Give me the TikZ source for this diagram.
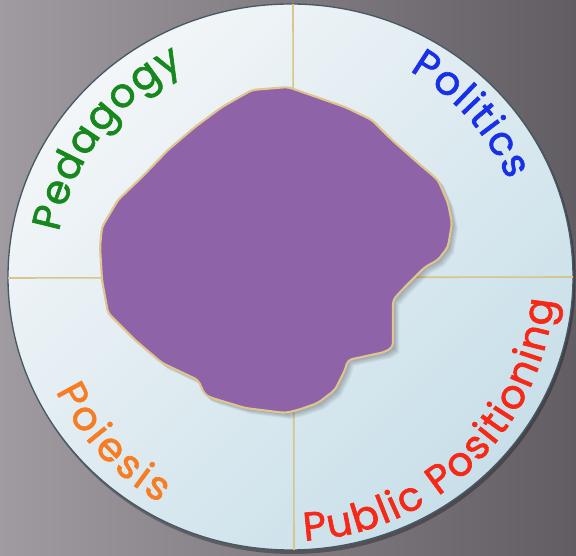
\documentclass[tikz,border=0pt]{standalone}
\usepackage{fontspec}
\usetikzlibrary{decorations.text}
\newfontfamily\handfont{Poppins}[FakeBold=1.6]

\definecolor{bgdark}{RGB}{98,92,99}
\definecolor{bglight}{RGB}{160,154,161}
\definecolor{diskhi}{RGB}{243,246,248}
\definecolor{disklo}{RGB}{200,223,233}
\definecolor{diskrim}{RGB}{70,90,102}
\definecolor{splitline}{RGB}{217,196,138}
\definecolor{blobfill}{RGB}{143,99,168}
\definecolor{blobedge}{RGB}{222,198,142}
\definecolor{pedgreen}{RGB}{22,136,30}
\definecolor{polblue}{RGB}{24,48,232}
\definecolor{poiorange}{RGB}{247,124,34}
\definecolor{pubred}{RGB}{246,40,24}

\newcommand{\labelfont}{\handfont\fontsize{30}{30}\selectfont}
\newcommand{\blobshape}{(288,87) -- (305,93) -- (345,107) -- (372,120) -- (392,140) -- (418,163) -- (438,180) -- (448,203) -- (452,223) -- (448,247) -- (438,260) -- (425,267) -- (412,280) -- (402,290) -- (393,300) -- (393,347) -- (385,352) -- (348,360) -- (345,370) -- (335,390) -- (318,403) -- (298,410) -- (285,413) -- (245,408) -- (212,398) -- (205,395) -- (198,380) -- (162,363) -- (135,340) -- (108,313) -- (102,280) -- (100,247) -- (102,227) -- (118,200) -- (142,177) -- (168,150) -- (195,127) -- (222,107) -- (252,90) -- cycle}

\tikzset{every picture/.style={line width=0.75pt}}
\tikzset{
  quarterline/.style={draw=splitline, line width=1.2pt},
  arclabel/.style 2 args={postaction={decorate}, decoration={text along path, text align=fit to path, text color=#1, text={|\labelfont|#2}}},
}

\begin{document}
\begin{tikzpicture}[x=0.75pt,y=0.75pt,yscale=-1]
\useasboundingbox (0,0) rectangle (576,556);

%Shape: Rectangle [id:background]
\shade[left color=bglight, right color=bgdark] (0,0) rectangle (576,556);

%Shape: Ellipse [id:disk]
\begin{scope}[shift={(290.5,277)}, yscale=-1]
\fill[black, opacity=0.3] (2,-3) ellipse [x radius=283, y radius=274];
\shade[top color=diskhi, bottom color=disklo, shading angle=45] (0,0) ellipse [x radius=282.5, y radius=273];
\draw[diskrim, line width=1pt] (0,0) ellipse [x radius=282.5, y radius=273];
\end{scope}

%Straight Lines [id:quarters]
\coordinate (vtop) at (293,4);
\coordinate (vbot) at (294,550);
\coordinate (hleft) at (8,278);
\coordinate (hright) at (573,277);
\draw[quarterline] (vtop) -- (vbot);
\draw[quarterline] (hleft) -- (hright);

%Shape: Polygon [id:blob]
\foreach \d in {1,...,6}
  \fill[black, opacity=0.05, shift={(\d,\d)}] \blobshape;
\filldraw[fill=blobfill, draw=blobedge, line width=1.6pt, rounded corners=3pt] \blobshape;

% Text along arcs
\begin{scope}[shift={(290.5,277)}, yscale=-1]
\path[arclabel={pedgreen}{Pedagogy}] (169:236) arc[start angle=169, end angle=117, radius=236];
\path[arclabel={polblue}{Politics}] (60:238) arc[start angle=60, end angle=24, radius=238];
\path[arclabel={poiorange}{Poiesis}] (206:261) arc[start angle=206, end angle=240, radius=261];
\path[arclabel={pubred}{Public Positioning}] (273:264) arc[start angle=273, end angle=355, radius=264];
\end{scope}

\end{tikzpicture}
\end{document}
